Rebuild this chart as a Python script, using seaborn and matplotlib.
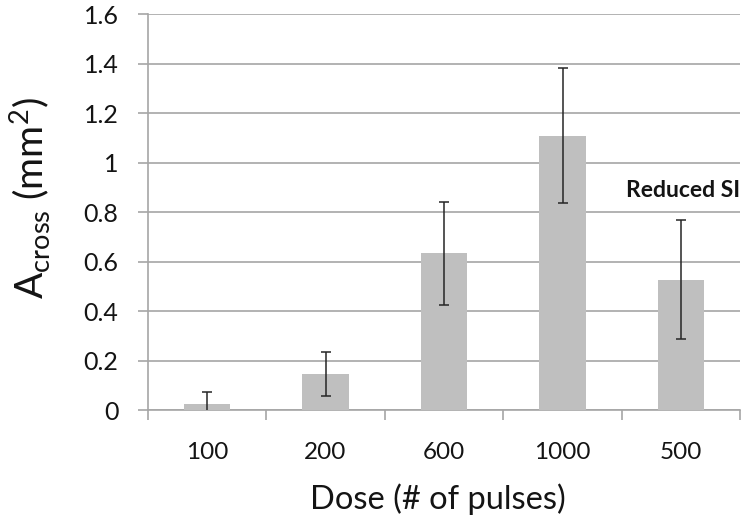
import numpy as np
import pandas as pd
import matplotlib.pyplot as plt
import seaborn as sns

# values
doses = ["100", "200", "600", "1000", "500"]
area = [0.024, 0.145, 0.633, 1.107, 0.525]
err_low = [0.024, 0.088, 0.208, 0.270, 0.236]
err_high = [0.050, 0.088, 0.207, 0.275, 0.243]
y_ticks = [0, 0.2, 0.4, 0.6, 0.8, 1.0, 1.2, 1.4, 1.6]
y_labels = ["0", "0.2", "0.4", "0.6", "0.8", "1", "1.2", "1.4", "1.6"]

df = pd.DataFrame({"dose": doses, "area": area})
df["lo"] = df["area"] - np.array(err_low)
df["hi"] = df["area"] + np.array(err_high)

sns.set_style("white")
plt.rcParams["font.family"] = ["Lato", "DejaVu Sans"]
plt.rcParams["text.color"] = "#141414"
plt.rcParams["xtick.color"] = "#141414"
plt.rcParams["ytick.color"] = "#141414"
plt.rcParams["axes.labelcolor"] = "#141414"

grid_col = "#a6a6a6"
err_col = "#262626"

fig = plt.figure(figsize=(7.5, 5.25), dpi=100)
ax = fig.add_axes([0.197, 0.219, 0.79, 0.754])

sns.barplot(data=df, x="dose", y="area", order=doses, color="#bfbfbf",
            width=0.39, errorbar=None, saturation=1, linewidth=0, ax=ax, zorder=3)

# error bars: stems plus caps (no lower cap where the bar sits on zero)
xpos = np.arange(len(doses))
ax.vlines(xpos, df["lo"], df["hi"], color=err_col, linewidth=1.1, zorder=4)
ax.plot(xpos, df["hi"], linestyle="none", marker="_", markersize=7,
        markeredgewidth=1.1, color=err_col, zorder=4)
has_lo = df["lo"] > 0.001
ax.plot(xpos[has_lo], df["lo"][has_lo], linestyle="none", marker="_", markersize=7,
        markeredgewidth=1.1, color=err_col, zorder=4)

ax.set_ylim(0, 1.6)
ax.set_xlim(-0.5, len(doses) - 0.5)
ax.set_yticks(y_ticks)
ax.set_yticklabels(y_labels, fontsize=18)
ax.yaxis.grid(True, color=grid_col, linewidth=1.2, zorder=0)
ax.set_axisbelow(True)

# category boundaries get tick marks, labels sit at the centres
ax.set_xticks(np.arange(-0.5, len(doses), 1.0))
ax.set_xticklabels([])
ax.set_xticks(xpos, minor=True)
ax.set_xticklabels(doses, minor=True, fontsize=17.5)
ax.tick_params(axis="x", which="major", direction="out", length=7,
               color=grid_col, width=1.2, bottom=True)
ax.tick_params(axis="x", which="minor", length=0, pad=23)
ax.tick_params(axis="y", direction="out", length=7, color=grid_col,
               width=1.2, left=True, pad=14)

for side in ["top", "right"]:
    ax.spines[side].set_visible(False)
for side in ["left", "bottom"]:
    ax.spines[side].set_color(grid_col)
    ax.spines[side].set_linewidth(1.2)

ax.set_xlabel("Dose (# of pulses)", fontsize=23.5)
ax.xaxis.set_label_coords(0.49, -0.185)
ax.set_ylabel(r"A$_{\mathregular{cross}}$ (mm$^{\mathregular{2}}$)", fontsize=28)
ax.yaxis.set_label_coords(-0.16, 0.535)

ax.text(4.02, 0.889, "Reduced SI", fontsize=16.5, fontweight="bold",
        ha="center", va="center")

plt.savefig("out.png", dpi=100)
plt.close()
